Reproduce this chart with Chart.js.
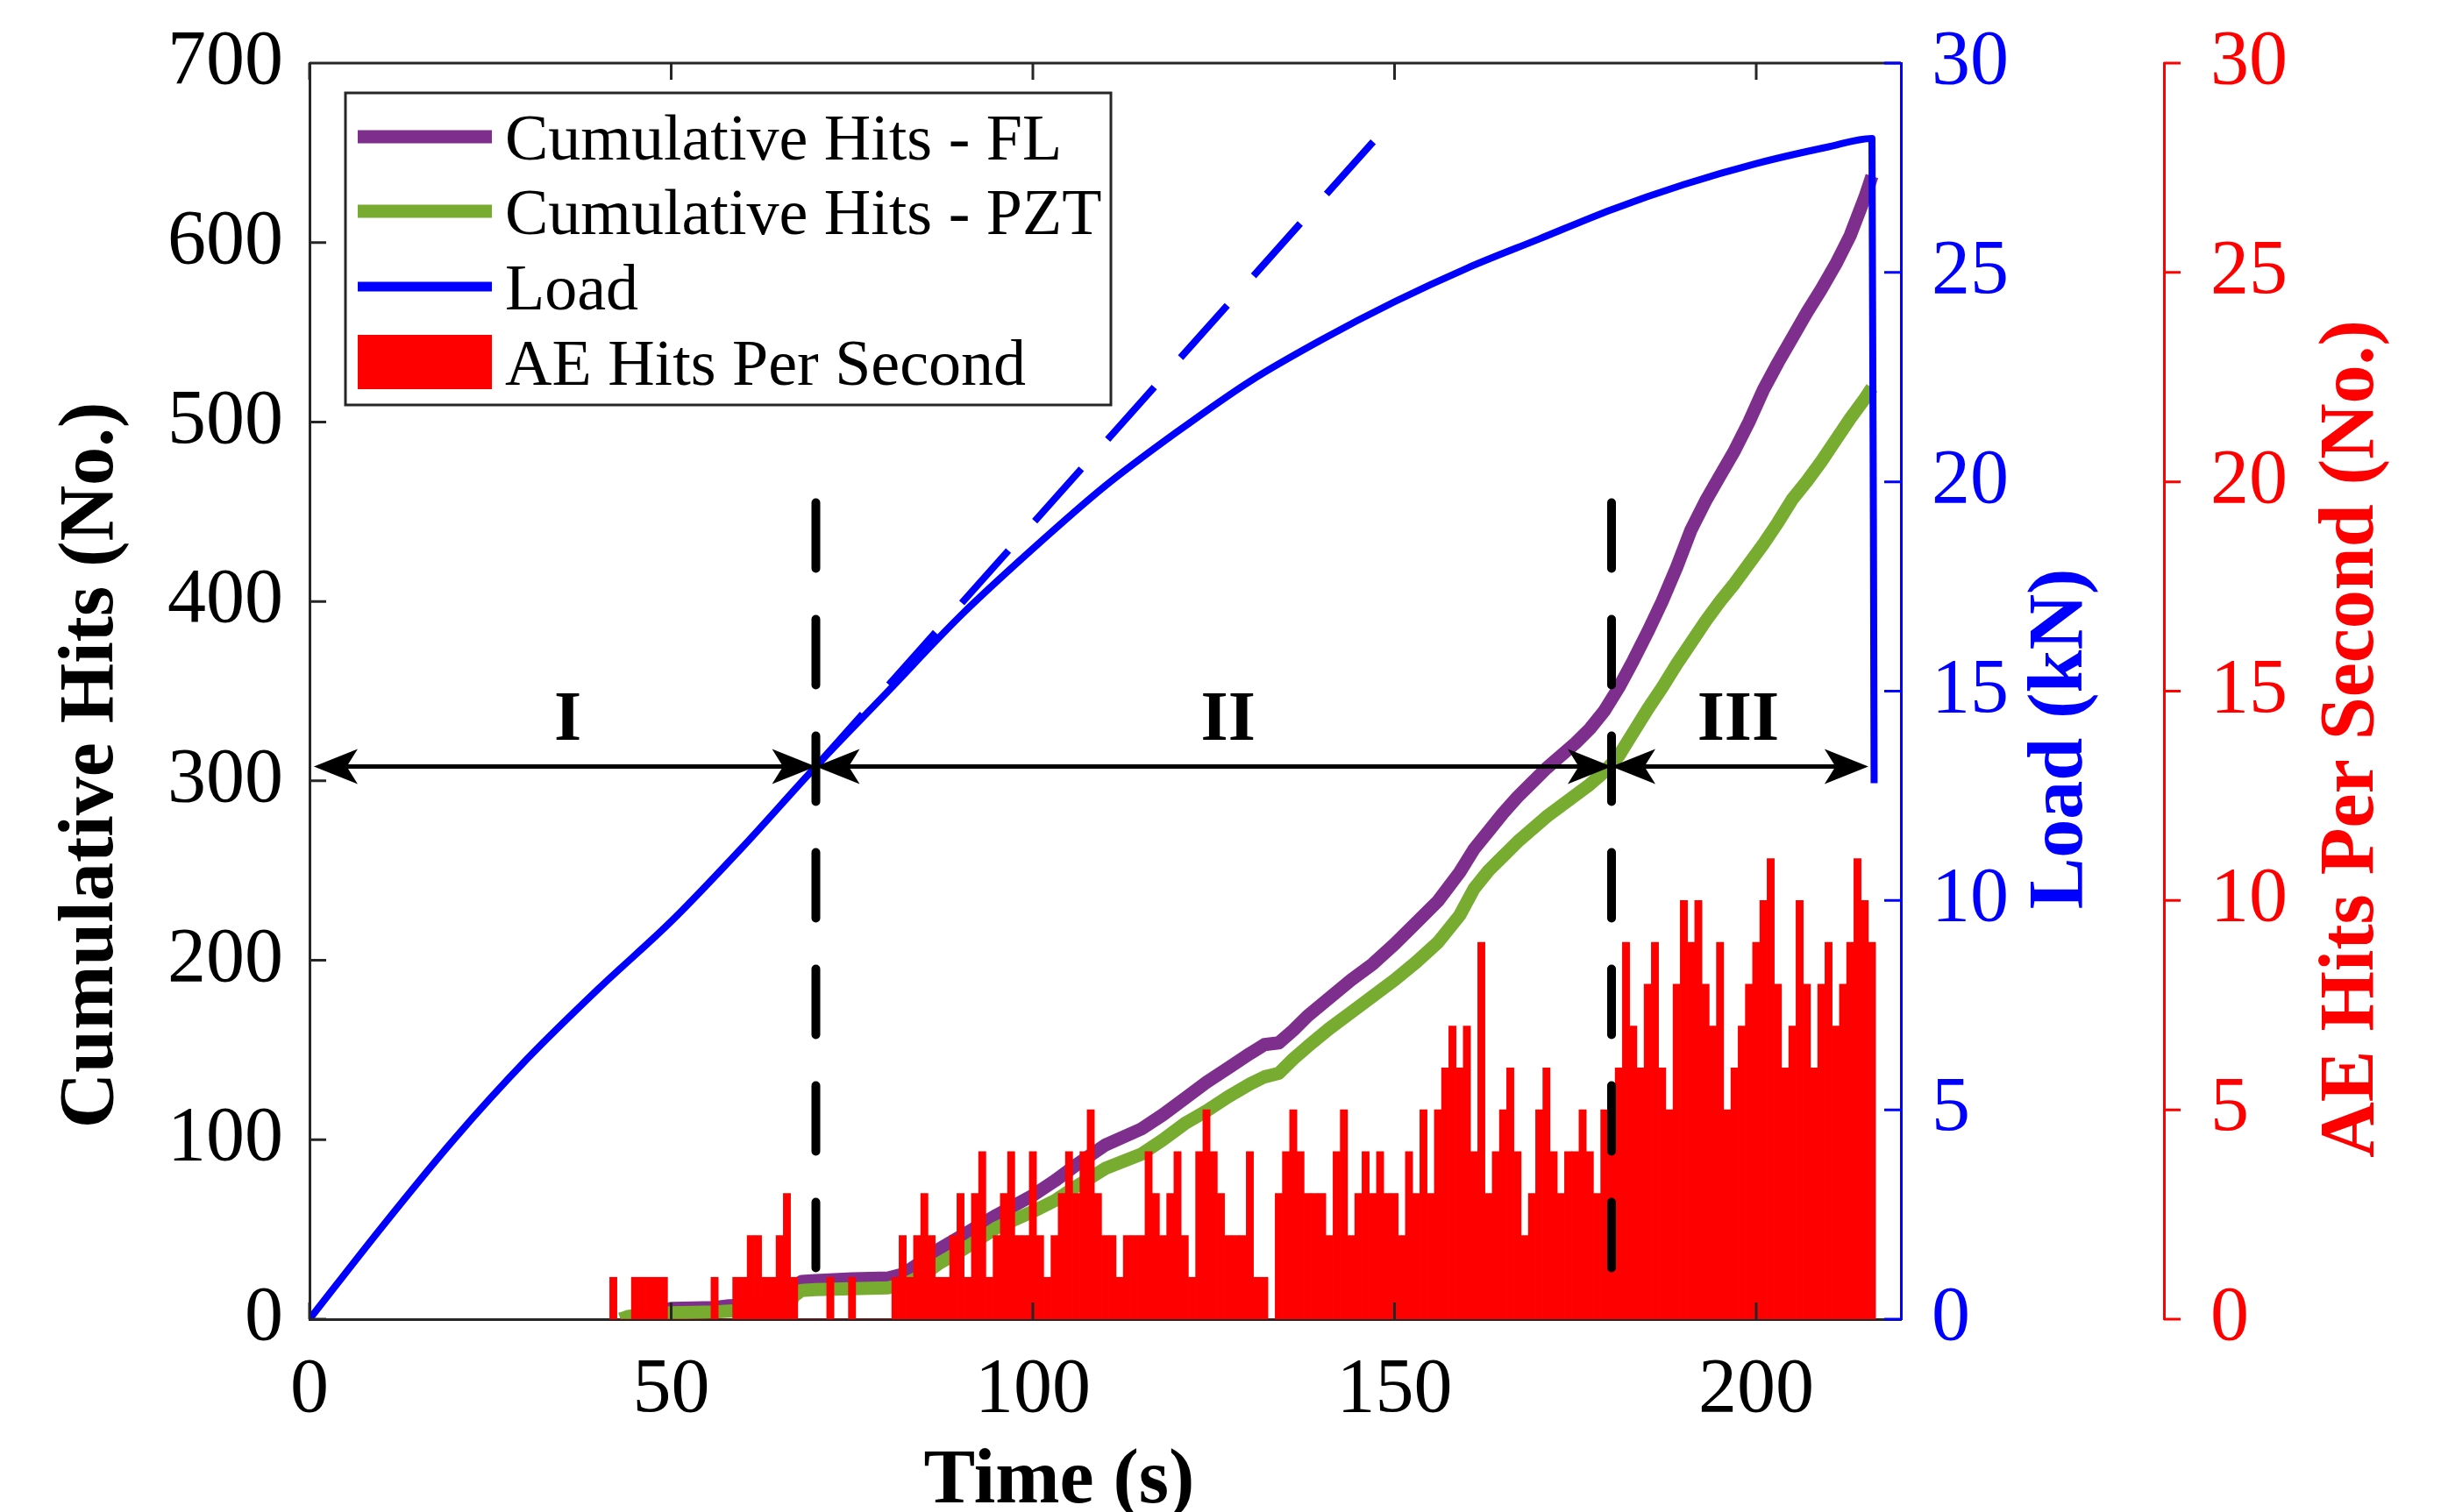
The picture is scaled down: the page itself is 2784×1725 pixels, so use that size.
<!DOCTYPE html>
<html>
<head>
<meta charset="utf-8">
<script src="https://cdn.jsdelivr.net/npm/chart.js@4.4.1/dist/chart.umd.min.js"></script>
<style>
  html, body { margin: 0; padding: 0; background: #fff; }
  canvas { display: block; }
</style>
</head>
<body>
<canvas id="aeChart" width="2784" height="1725"></canvas>
<script>
// ---- data ----
const xTicks = [0, 50, 100, 150, 200];
const hitsTicks = [0, 100, 200, 300, 400, 500, 600, 700];
const loadTicks = [0, 5, 10, 15, 20, 25, 30];
const aeTicks = [0, 5, 10, 15, 20, 25, 30];

// cumulative hits, FL sensor
const flTime = [43, 46, 49, 50, 56, 58, 62, 66, 67, 68, 70, 75, 80, 82, 85, 87, 90, 95, 100, 103, 106, 110,
  115, 118, 121, 124, 127, 130, 132, 134, 136, 138, 141, 144, 147, 150, 153, 156, 159, 161, 163, 165,
  167, 169, 171, 173, 175, 177, 179, 181, 183, 185, 187, 189, 191, 193, 195, 197, 199, 201, 203, 205,
  207, 209, 211, 213, 215, 216];
const flHits = [0, 2, 5, 6, 6.5, 7.5, 8, 9, 17, 21, 21.5, 22.5, 23, 25, 33, 39, 46, 58, 69, 77, 86, 97,
  106, 114, 123, 132, 140, 148, 153, 154, 161, 169, 179, 189, 198, 209, 221, 233, 249, 262, 272, 282,
  291, 299, 307, 314, 321, 329, 339, 352, 367, 383, 400, 419, 440, 456, 470, 484, 500, 518, 533, 547,
  561, 574, 588, 604, 625, 637];

// cumulative hits, PZT sensor
const pztTime = [43, 44, 46, 50, 56, 58, 62, 66, 67, 68, 70, 75, 80, 82, 85, 87, 90, 95, 100, 103, 106, 110,
  115, 118, 121, 124, 127, 130, 132, 134, 136, 138, 141, 144, 147, 150, 153, 156, 159, 161, 163, 165,
  167, 169, 171, 173, 175, 177, 179, 181, 183, 185, 187, 189, 191, 193, 195, 197, 199, 201, 203, 205,
  207, 209, 211, 213, 215, 216];
const pztHits = [0, 1.5, 2.5, 3.5, 4, 4.5, 5, 6, 13, 16, 16.5, 17, 17.5, 19, 25, 31, 38, 51, 60, 66, 74, 84,
  92, 100, 109, 116, 124, 131, 135, 137, 145, 152, 162, 171, 180, 189, 199, 210, 225, 240, 250, 258,
  266, 273, 280, 286, 292, 298, 305, 314, 327, 340, 352, 365, 377, 389, 400, 410, 421, 432, 444, 457,
  467, 478, 490, 502, 513, 519];

// load (kN)
const loadTime = [0, 10, 20, 30, 40, 50, 60, 70, 80, 90, 100, 110, 120, 130, 140, 150, 160, 170, 180, 190,
  200, 210, 216, 216.3];
const loadKN = [0, 2.2, 4.3, 6.2, 7.9, 9.5, 11.3, 13.2, 15.0, 16.8, 18.4, 19.9, 21.2, 22.4, 23.4, 24.3,
  25.1, 25.8, 26.5, 27.1, 27.6, 28.0, 28.2, 12.8];

// linear (elastic) trend of the load, dashed
const trendTime = [70, 149];
const trendKN = [13.2, 28.5];

// AE hits per second, one bar per 1 s bin starting at aeStart
const aeStart = 42;
const aeHits = [
  1, 0, 0, 1, 1, 1, 1, 1, 0, 0,    // 42-51
  0, 0, 0, 0, 1, 0, 0, 1, 1, 2,    // 52-61
  2, 1, 1, 2, 3, 1, 0, 0, 0, 0,    // 62-71
  1, 0, 0, 1, 0, 0, 0, 0, 0, 1,    // 72-81
  2, 1, 2, 3, 2, 1, 1, 2, 3, 1,    // 82-91
  3, 4, 1, 2, 3, 4, 2, 2, 4, 2,    // 92-101
  1, 2, 3, 4, 3, 4, 5, 3, 2, 2,    // 102-111
  1, 2, 2, 2, 4, 3, 2, 3, 4, 2,    // 112-121
  1, 4, 5, 4, 3, 2, 2, 2, 4, 1,    // 122-131
  1, 0, 3, 4, 5, 4, 3, 3, 3, 2,    // 132-141
  4, 5, 2, 3, 4, 3, 4, 3, 3, 2,    // 142-151
  4, 3, 5, 3, 5, 6, 7, 6, 7, 4,    // 152-161
  9, 3, 4, 5, 6, 4, 2, 3, 5, 6,    // 162-171
  4, 3, 4, 4, 5, 4, 3, 5, 5, 6,    // 172-181
  9, 7, 6, 8, 9, 6, 5, 8, 10, 9,   // 182-191
  10, 8, 7, 9, 5, 6, 7, 8, 9, 10,  // 192-201
  11, 8, 6, 7, 10, 8, 6, 8, 9, 7,  // 202-211
  8, 9, 11, 10, 9                  // 212-216
];

// stage boundaries (s), arrows and stage names
const stageBounds = [0.6, 70, 180, 215.5];
const stageNames = ['I', 'II', 'III'];
const stageNameTime = [35.7, 127, 197.5];
const stageLineTop = 455;
const stageLineBottom = 21;
const arrowHits = 308;
const stageNameHits = 323;

const toXY = (xs, ys) => xs.map((v, i) => ({ x: v, y: ys[i] }));

const FONT = 'Liberation Serif';
const AXIS = '#262626';

// inward tick marks, top frame, arrows, stage labels
const overlay = {
  id: 'overlay',
  afterDatasetsDraw(chart) {
    const { ctx, chartArea: a } = chart;
    const { x, y, y1, y2 } = chart.scales;
    const tl = 19;
    ctx.save();
    ctx.lineWidth = 3;
    ctx.strokeStyle = AXIS;
    ctx.beginPath();
    ctx.moveTo(a.left, a.top);
    ctx.lineTo(a.right, a.top);
    xTicks.forEach(v => {
      const px = x.getPixelForValue(v);
      ctx.moveTo(px, a.bottom); ctx.lineTo(px, a.bottom - tl);
      ctx.moveTo(px, a.top); ctx.lineTo(px, a.top + tl);
    });
    hitsTicks.forEach(v => {
      const py = y.getPixelForValue(v);
      ctx.moveTo(a.left, py); ctx.lineTo(a.left + tl, py);
    });
    ctx.stroke();

    ctx.strokeStyle = '#0000FF';
    ctx.beginPath();
    loadTicks.forEach(v => {
      const py = y1.getPixelForValue(v);
      ctx.moveTo(a.right, py); ctx.lineTo(a.right - tl, py);
    });
    ctx.stroke();

    ctx.strokeStyle = '#FF0000';
    ctx.beginPath();
    aeTicks.forEach(v => {
      const py = y2.getPixelForValue(v);
      ctx.moveTo(y2.left, py); ctx.lineTo(y2.left + tl, py);
    });
    ctx.stroke();

    // double arrows between stage boundaries
    const ay = y.getPixelForValue(arrowHits);
    const L = 50, W = 20;
    ctx.strokeStyle = '#000';
    ctx.fillStyle = '#000';
    ctx.lineWidth = 5;
    for (let i = 0; i < stageBounds.length - 1; i++) {
      const xa = x.getPixelForValue(stageBounds[i]);
      const xb = x.getPixelForValue(stageBounds[i + 1]);
      ctx.beginPath();
      ctx.moveTo(xa + L * 0.7, ay);
      ctx.lineTo(xb - L * 0.7, ay);
      ctx.stroke();
      ctx.beginPath();
      ctx.moveTo(xa, ay); ctx.lineTo(xa + L, ay - W); ctx.lineTo(xa + L * 0.75, ay); ctx.lineTo(xa + L, ay + W);
      ctx.closePath(); ctx.fill();
      ctx.beginPath();
      ctx.moveTo(xb, ay); ctx.lineTo(xb - L, ay - W); ctx.lineTo(xb - L * 0.75, ay); ctx.lineTo(xb - L, ay + W);
      ctx.closePath(); ctx.fill();
    }
    ctx.font = 'bold 80px "' + FONT + '"';
    ctx.textAlign = 'center';
    ctx.textBaseline = 'alphabetic';
    stageNames.forEach((s, i) => {
      ctx.fillText(s, x.getPixelForValue(stageNameTime[i]), y.getPixelForValue(stageNameHits));
    });
    ctx.restore();
  },
  afterDraw(chart) {
    const { ctx } = chart;
    const ds = chart.data.datasets;
    ctx.save();
    // legend box
    const bx = 394, by = 106, bw = 873, bh = 356;
    ctx.fillStyle = '#fff';
    ctx.fillRect(bx, by, bw, bh);
    ctx.strokeStyle = AXIS;
    ctx.lineWidth = 3;
    ctx.strokeRect(bx, by, bw, bh);
    const rows = [156, 241, 327, 413];
    const widths = [15, 15, 11];
    ctx.font = '74px "' + FONT + '"';
    ctx.textAlign = 'left';
    ctx.textBaseline = 'alphabetic';
    for (let i = 0; i < 4; i++) {
      const d = ds[i];
      if (d.type === 'bar') {
        ctx.fillStyle = d.backgroundColor;
        ctx.fillRect(408, rows[i] - 31, 153, 62);
      } else {
        ctx.strokeStyle = d.borderColor;
        ctx.lineWidth = widths[i];
        ctx.beginPath();
        ctx.moveTo(408, rows[i]);
        ctx.lineTo(561, rows[i]);
        ctx.stroke();
      }
      ctx.fillStyle = '#000';
      ctx.fillText(d.label, 576, rows[i] + 26);
    }

    // axis titles
    ctx.font = 'bold 88px "' + FONT + '"';
    ctx.textAlign = 'center';
    ctx.fillStyle = '#000';
    ctx.fillText('Time (s)', 1208, 1714);
    const vtitle = (text, px, py, color) => {
      ctx.save();
      ctx.translate(px, py);
      ctx.rotate(-Math.PI / 2);
      ctx.fillStyle = color;
      ctx.fillText(text, 0, 0);
      ctx.restore();
    };
    vtitle('Cumulative Hits (No.)', 128, 873, '#000');
    vtitle('Load (kN)', 2374, 843, '#0000FF');
    vtitle('AE Hits Per Second (No.)', 2706, 843, '#FF0000');
    ctx.restore();
  }
};

const tickFont = { family: FONT, size: 88 };

// keep the scales from pushing the plot area around with label overflow
const noPad = s => { s.paddingTop = 0; s.paddingBottom = 0; s.paddingLeft = 0; s.paddingRight = 0; };

new Chart(document.getElementById('aeChart'), {
  type: 'line',
  data: {
    datasets: [
      {
        label: 'Cumulative Hits - FL',
        data: toXY(flTime, flHits),
        borderColor: '#7E2F8E',
        borderWidth: 15,
        yAxisID: 'y',
        order: 5
      },
      {
        label: 'Cumulative Hits - PZT',
        data: toXY(pztTime, pztHits),
        borderColor: '#77AC30',
        borderWidth: 15,
        yAxisID: 'y',
        order: 4
      },
      {
        label: 'Load',
        data: toXY(loadTime, loadKN),
        borderColor: '#0000FF',
        borderWidth: 8,
        cubicInterpolationMode: 'monotone',
        yAxisID: 'y1',
        order: 3
      },
      {
        type: 'bar',
        label: 'AE Hits Per Second',
        data: aeHits.map((v, i) => ({ x: aeStart + i, y: v })),
        backgroundColor: '#FF0000',
        borderWidth: 0,
        barPercentage: 1,
        categoryPercentage: 1,
        yAxisID: 'y2',
        order: 1
      },
      {
        label: 'trend',
        data: toXY(trendTime, trendKN),
        borderColor: '#0000FF',
        borderWidth: 8,
        borderDash: [80, 45],
        yAxisID: 'y1',
        order: 2
      },
      {
        label: 'stage 1/2',
        data: [{ x: stageBounds[1], y: stageLineTop }, { x: stageBounds[1], y: stageLineBottom }],
        borderColor: '#000',
        borderWidth: 10,
        borderDash: [75, 58],
        borderCapStyle: 'round',
        yAxisID: 'y',
        order: 0
      },
      {
        label: 'stage 2/3',
        data: [{ x: stageBounds[2], y: stageLineTop }, { x: stageBounds[2], y: stageLineBottom }],
        borderColor: '#000',
        borderWidth: 10,
        borderDash: [75, 58],
        borderCapStyle: 'round',
        yAxisID: 'y',
        order: 0
      }
    ]
  },
  options: {
    responsive: false,
    devicePixelRatio: 1,
    animation: false,
    layout: { autoPadding: false, padding: { top: 72, left: 0, right: 0, bottom: 0 } },
    elements: {
      point: { radius: 0 },
      line: { tension: 0, borderJoinStyle: 'round', fill: false }
    },
    datasets: { line: { clip: 0 } },
    plugins: { legend: { display: false }, tooltip: { enabled: false } },
    scales: {
      x: {
        type: 'linear',
        min: 0,
        max: 220,
        offset: false,
        afterFit: s => { s.height = 220; noPad(s); },
        afterBuildTicks: s => { s.ticks = xTicks.map(v => ({ value: v })); },
        grid: { display: false, drawTicks: false },
        border: { display: true, color: AXIS, width: 3 },
        ticks: { font: tickFont, color: '#000', padding: 29, maxRotation: 0, autoSkip: false }
      },
      y: {
        type: 'linear',
        position: 'left',
        min: 0,
        max: 700,
        afterFit: s => { s.width = 353; noPad(s); },
        afterBuildTicks: s => { s.ticks = hitsTicks.map(v => ({ value: v })); },
        grid: { display: false, drawTicks: false },
        border: { display: true, color: AXIS, width: 3 },
        ticks: { font: tickFont, color: '#000', padding: 30 }
      },
      y1: {
        type: 'linear',
        position: 'right',
        weight: 0,
        min: 0,
        max: 30,
        afterFit: s => { s.width = 300; noPad(s); },
        afterBuildTicks: s => { s.ticks = loadTicks.map(v => ({ value: v })); },
        grid: { display: false, drawTicks: false },
        border: { display: true, color: '#0000FF', width: 3 },
        ticks: { font: tickFont, color: '#0000FF', padding: 35 }
      },
      y2: {
        type: 'linear',
        position: 'right',
        weight: 1,
        min: 0,
        max: 30,
        afterFit: s => { s.width = 316; noPad(s); },
        afterBuildTicks: s => { s.ticks = aeTicks.map(v => ({ value: v })); },
        grid: { display: false, drawTicks: false },
        border: { display: true, color: '#FF0000', width: 3 },
        ticks: { font: tickFont, color: '#FF0000', padding: 53 }
      }
    }
  },
  plugins: [overlay]
});
</script>
</body>
</html>
